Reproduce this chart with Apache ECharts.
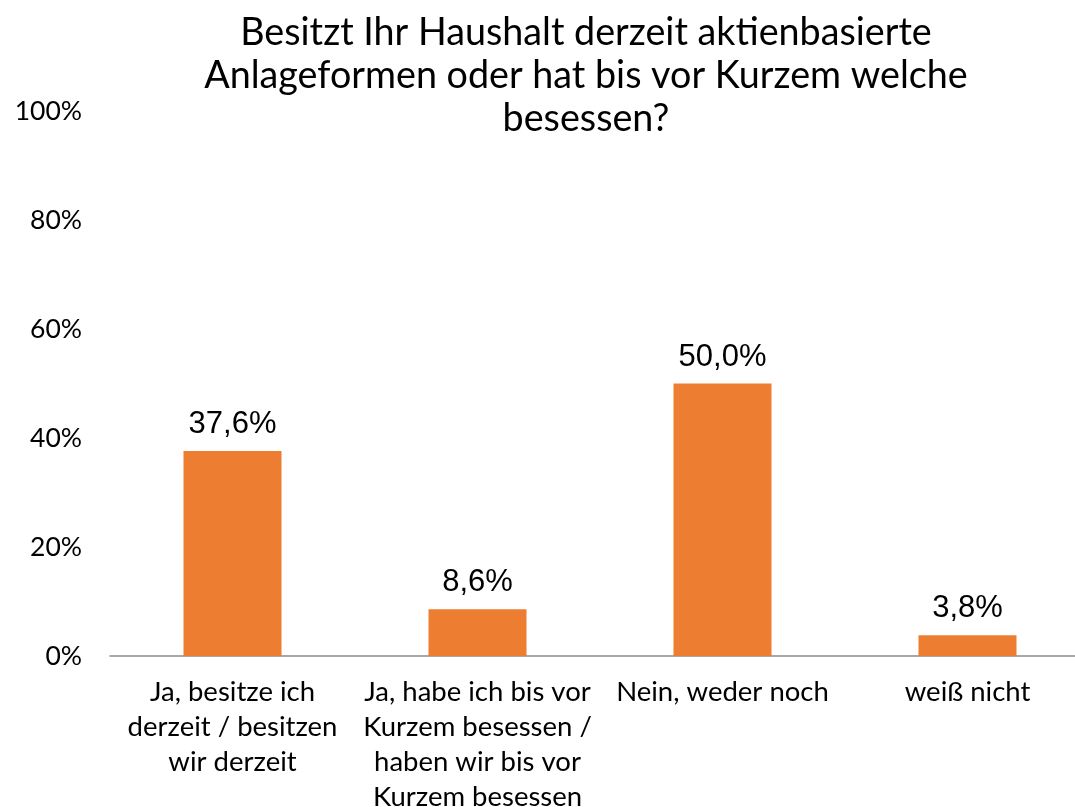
<!DOCTYPE html>
<html>
<head>
<meta charset="utf-8">
<script src="https://cdn.jsdelivr.net/npm/echarts@6/dist/echarts.min.js"></script>
<style>
  html, body { margin: 0; padding: 0; background: #fff; }
  #chart { width: 1075px; height: 807px; }
</style>
</head>
<body>
<div id="chart"></div>
<script>
  // Daten
  var categories = [
    'Ja, besitze ich\nderzeit / besitzen\nwir derzeit',
    'Ja, habe ich bis vor\nKurzem besessen /\nhaben wir bis vor\nKurzem besessen',
    'Nein, weder noch',
    'weiß nicht'
  ];
  var values = [37.6, 8.6, 50.0, 3.8];
  var yTicks = [0, 20, 40, 60, 80, 100];

  var chart = echarts.init(document.getElementById('chart'));
  chart.setOption({
    animation: false,
    title: {
      text: 'Besitzt Ihr Haushalt derzeit aktienbasierte\nAnlageformen oder hat bis vor Kurzem welche\nbesessen?',
      left: 581,
      top: 6,
      textAlign: 'center',
      textStyle: {
        fontFamily: 'Lato',
        fontWeight: 'normal',
        fontSize: 37.7,
        lineHeight: 43,
        color: '#000'
      }
    },
    grid: {
      left: 110,
      width: 980,
      top: 111,
      bottom: 807 - 656,
      containLabel: false,
      outerBoundsMode: 'none'
    },
    xAxis: {
      type: 'category',
      data: categories,
      axisLine: { lineStyle: { color: '#8c8c8c', width: 1.5 } },
      axisTick: { show: false },
      axisLabel: {
        interval: 0,
        margin: 19,
        fontFamily: 'Lato',
        fontSize: 27.5,
        lineHeight: 35,
        color: '#000'
      }
    },
    yAxis: {
      type: 'value',
      min: yTicks[0],
      max: yTicks[yTicks.length - 1],
      interval: 20,
      splitLine: { show: false },
      axisLine: { show: false },
      axisTick: { show: false },
      axisLabel: {
        margin: 28,
        fontFamily: 'Lato',
        fontSize: 26.5,
        color: '#000',
        formatter: function (v) { return v + '%'; }
      }
    },
    series: [{
      type: 'bar',
      data: values,
      barWidth: '40%',
      itemStyle: { color: '#ed7d31' },
      label: {
        show: true,
        position: 'top',
        distance: 11,
        fontFamily: 'Liberation Sans',
        fontSize: 31,
        color: '#000',
        formatter: function (p) { return p.value.toFixed(1).replace('.', ',') + '%'; }
      }
    }]
  });
</script>
</body>
</html>
